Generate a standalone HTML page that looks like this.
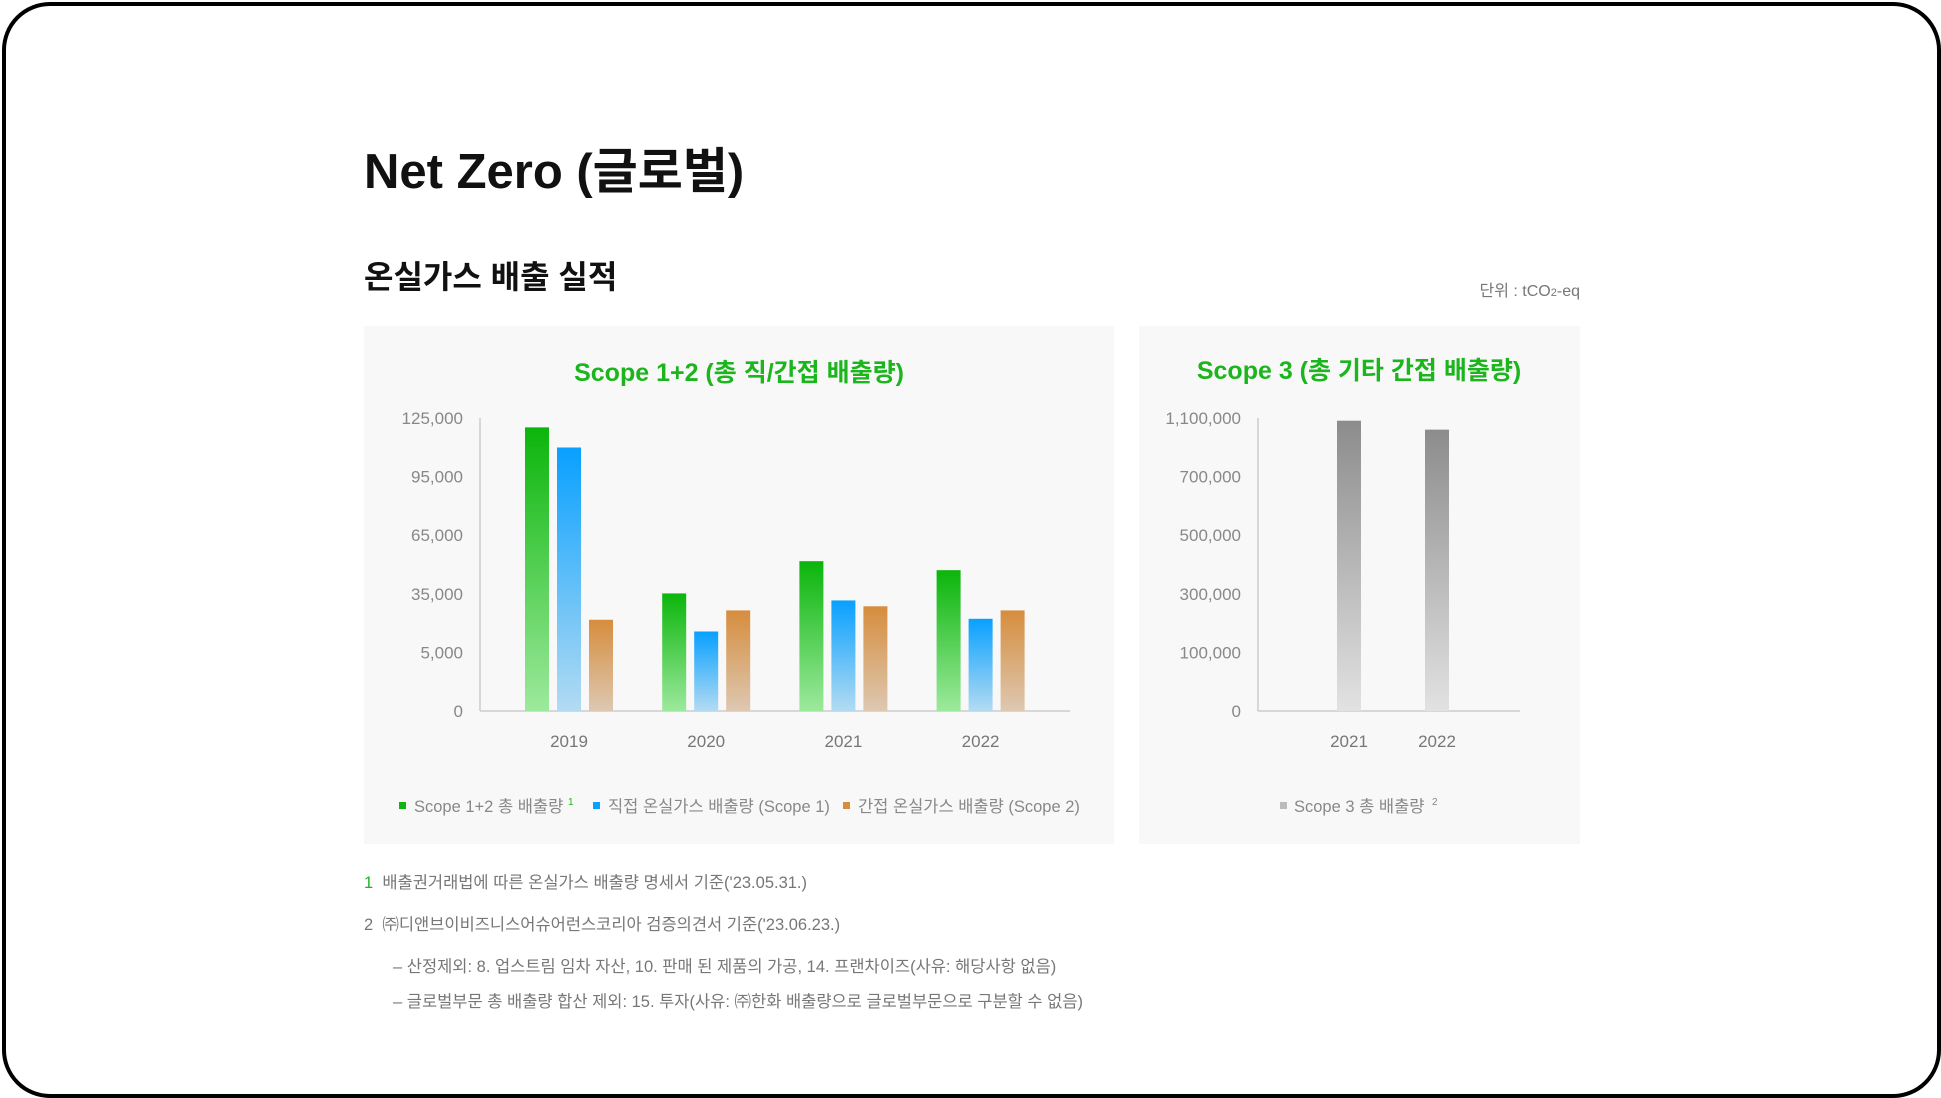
<!DOCTYPE html>
<html><head><meta charset="utf-8">
<style>
html,body{margin:0;padding:0;background:#fff;}
body{width:1941px;height:1098px;overflow:hidden;position:relative;font-family:"Liberation Sans","Noto Sans CJK KR",sans-serif;}
.frame{position:absolute;left:2px;top:2px;width:1931px;height:1088px;border:4px solid #000;border-radius:48px;}
.t{position:absolute;white-space:nowrap;}
</style></head>
<body>
<div class="frame"></div>
<div class="t" style="left:364px;top:132px;font-size:49px;font-weight:bold;color:#111;">Net Zero (글로벌)</div>
<div class="t" style="left:364px;top:252px;font-size:32px;font-weight:bold;color:#111;">온실가스 배출 실적</div>
<div class="t" style="right:361px;top:277px;font-size:16px;color:#777;">단위 : tCO<span style="font-size:11px">2</span>-eq</div>

<svg id="chart" width="1941" height="1098" style="position:absolute;left:0;top:0">
<defs>
<linearGradient id="gGreen" x1="0" y1="0" x2="0" y2="1"><stop offset="0" stop-color="#0bb50b"/><stop offset="1" stop-color="#9de99d"/></linearGradient>
<linearGradient id="gBlue" x1="0" y1="0" x2="0" y2="1"><stop offset="0" stop-color="#08a0ff"/><stop offset="1" stop-color="#b3dbf2"/></linearGradient>
<linearGradient id="gOrange" x1="0" y1="0" x2="0" y2="1"><stop offset="0" stop-color="#d68d3d"/><stop offset="1" stop-color="#ddc8b2"/></linearGradient>
<linearGradient id="gGray" x1="0" y1="0" x2="0" y2="1"><stop offset="0" stop-color="#8c8c8c"/><stop offset="1" stop-color="#e2e2e2"/></linearGradient>
</defs>
<rect x="364" y="326" width="750" height="518" fill="#f8f8f8"/>
<rect x="1139" y="326" width="441" height="518" fill="#f8f8f8"/>
<text x="739" y="381" text-anchor="middle" font-size="25" font-weight="bold" fill="#1db51d">Scope 1+2 (총 직/간접 배출량)</text>
<text x="1359" y="379" text-anchor="middle" font-size="25" font-weight="bold" fill="#1db51d">Scope 3 (총 기타 간접 배출량)</text>
<g id="c1"></g><g id="c2"></g>
</svg>

<div class="t" style="left:364px;top:869px;font-size:16.5px;color:#777;"><span style="color:#1db51d">1</span>&nbsp;&nbsp;배출권거래법에 따른 온실가스 배출량 명세서 기준('23.05.31.)</div>
<div class="t" style="left:364px;top:911px;font-size:16.5px;color:#777;">2&nbsp;&nbsp;㈜디앤브이비즈니스어슈어런스코리아 검증의견서 기준('23.06.23.)</div>
<div class="t" style="left:393px;top:953px;font-size:16.5px;color:#777;">– 산정제외: 8. 업스트림 임차 자산, 10. 판매 된 제품의 가공, 14. 프랜차이즈(사유: 해당사항 없음)</div>
<div class="t" style="left:393px;top:988px;font-size:16.5px;color:#777;">– 글로벌부문 총 배출량 합산 제외: 15. 투자(사유: ㈜한화 배출량으로 글로벌부문으로 구분할 수 없음)</div>

<script>
const years1 = ["2019","2020","2021","2022"];
const scope12 = [120200, 35200, 51700, 47100];
const scope1 = [109900, 15700, 31600, 22200];
const scope2 = [21700, 26500, 28600, 26500];
const ticks1 = [0, 5000, 35000, 65000, 95000, 125000];
const tickLabels1 = ["0","5,000","35,000","65,000","95,000","125,000"];
const years2 = ["2021","2022"];
const scope3 = [1081500, 1020500];
const ticks2 = [0, 100000, 300000, 500000, 700000, 1100000];
const tickLabels2 = ["0","100,000","300,000","500,000","700,000","1,100,000"];

const NS="http://www.w3.org/2000/svg";
function mk(p,tag,attrs,txt){const e=document.createElementNS(NS,tag);for(const k in attrs)e.setAttribute(k,attrs[k]);if(txt!==undefined)e.textContent=txt;p.appendChild(e);return e;}
function yScale(ticks,y0,y1){return v=>{const n=ticks.length-1,step=(y0-y1)/n;for(let i=0;i<n;i++){if(v<=ticks[i+1]||i==n-1){const f=(v-ticks[i])/(ticks[i+1]-ticks[i]);return y0-(i+f)*step;}}};}

function axes(g,ticks,labels,ax,ax2,y0,y1,name){
  const y=yScale(ticks,y0,y1);
  ticks.forEach((t,i)=>{const el=mk(g,"text",{x:ax-17,y:y(t)+6,"text-anchor":"end","font-size":"17",fill:"#888"},labels[i]);
    
    });
  const l1=mk(g,"line",{x1:ax,y1:y1,x2:ax,y2:y0,stroke:"#ccc","stroke-width":"1.5"});
  
  
  const l2=mk(g,"line",{x1:ax,y1:y0,x2:ax2,y2:y0,stroke:"#ccc","stroke-width":"1.5"});
  
  
  return y;
}
(function(){
  const g=document.getElementById("c1");
  const y0=711,y1=418;
  const y=axes(g,ticks1,tickLabels1,480,1070,y0,y1,"scope12");
  const xC=i=>569+i*137.2;
  const series=[[scope12,"url(#gGreen)","scope12-bar"],[scope1,"url(#gBlue)","scope1-bar"],[scope2,"url(#gOrange)","scope2-bar"]];
  years1.forEach((yr,i)=>{
    series.forEach((s,j)=>{const top=y(s[0][i]);
      const r=mk(g,"rect",{x:xC(i)-44+j*32,y:top,width:24,height:y0-top,fill:s[1]});
      
      });
    const t=mk(g,"text",{x:xC(i),y:747,"text-anchor":"middle","font-size":"17",fill:"#777"},yr);
    
    
  });
  const leg=[[399,"#11b511","Scope 1+2 총 배출량",true],[593,"#0aa0ff","직접 온실가스 배출량 (Scope 1)"],[843,"#d68d3d","간접 온실가스 배출량 (Scope 2)"]];
  leg.forEach(l=>{
    const gg=mk(g,"g",{});
    
    
    mk(gg,"rect",{x:l[0],y:802,width:7,height:7,fill:l[1]});
    mk(gg,"text",{x:l[0]+15,y:812,"font-size":"16.5",fill:"#888"},l[2]);
    if(l[3]){mk(gg,"text",{x:l[0]+169,y:805,"font-size":"10",fill:"#1db51d"},"1");}
  });
})();
(function(){
  const g=document.getElementById("c2");
  const y0=711,y1=418;
  const y=axes(g,ticks2,tickLabels2,1258,1520,y0,y1,"scope3");
  const xC=i=>1349+i*88;
  years2.forEach((yr,i)=>{const top=y(scope3[i]);
    const r=mk(g,"rect",{x:xC(i)-12,y:top,width:24,height:y0-top,fill:"url(#gGray)"});
    
    
    const t=mk(g,"text",{x:xC(i),y:747,"text-anchor":"middle","font-size":"17",fill:"#777"},yr);
    
    
  });
  const gg=mk(g,"g",{});
  
  
  mk(gg,"rect",{x:1280,y:802,width:7,height:7,fill:"#bbb"});
  mk(gg,"text",{x:1294,y:812,"font-size":"16.5",fill:"#888"},"Scope 3 총 배출량");
  mk(gg,"text",{x:1432,y:805,"font-size":"10",fill:"#888"},"2");
})();
</script>
</body></html>
